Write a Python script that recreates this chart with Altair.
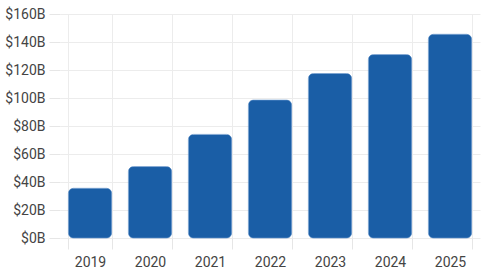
import altair as alt
import pandas as pd

years = ["2019", "2020", "2021", "2022", "2023", "2024", "2025"]
values = [35.5, 51, 74, 98.5, 117.5, 131, 145.5]

df = pd.DataFrame({"year": years, "value": values})

chart = alt.Chart(df).mark_bar(
    color="#1a5ea6", cornerRadius=5, stroke="#4a82c0", strokeWidth=0.6
).encode(
    x=alt.X("year:N", sort=years, title=None,
            scale=alt.Scale(paddingInner=0.28, paddingOuter=0.14),
            axis=alt.Axis(labelAngle=0, grid=True, bandPosition=0, domain=False,
                          ticks=True, tickBand="extent", tickSize=11, tickColor="#e6e6e6",
                          gridColor="#ececec", labelPadding=6,
                          labelFont="Roboto", labelFontSize=14, labelColor="#444444")),
    y=alt.Y("value:Q", title=None,
            scale=alt.Scale(domain=[0, 160], nice=False),
            axis=alt.Axis(values=[0, 20, 40, 60, 80, 100, 120, 140, 160],
                          labelExpr="'$' + datum.value + 'B'", domain=False,
                          tickSize=11, tickColor="#e6e6e6", gridColor="#ececec",
                          labelPadding=4, labelFont="Roboto", labelFontSize=14,
                          labelColor="#444444")),
).properties(
    width=420, height=224,
    padding={"left": 60, "top": 14, "right": 1, "bottom": 37},
    autosize=alt.AutoSizeParams(type="none"),
).configure_view(stroke=None)

chart.save("out.html", embed_options={"renderer": "svg", "actions": False})
